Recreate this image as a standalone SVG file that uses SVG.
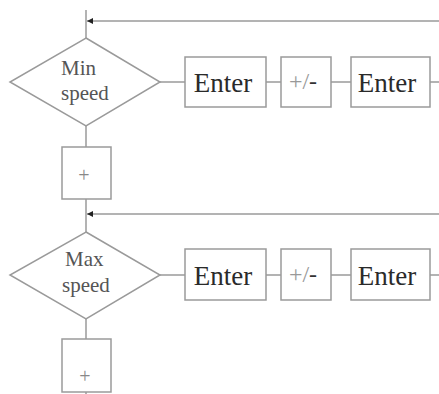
<svg xmlns="http://www.w3.org/2000/svg" width="439" height="394" viewBox="0 0 439 394">
<style>
.ln{stroke:#9a9a9a;stroke-width:1.5;fill:none}
.bx{stroke:#9a9a9a;stroke-width:1.5;fill:#fff}
.t{font-family:"Liberation Serif",serif}
.c{text-anchor:middle}
.big{font-size:27px;fill:#2a2a2a}
.sm{font-size:21px;fill:#555}
.pm{font-size:24px;fill:#999}
.dk{fill:#333}
.pl{font-size:20px;fill:#888}
</style>
<defs>
<marker id="ah" viewBox="0 0 10 10" refX="10" refY="5" markerWidth="6" markerHeight="6" markerUnits="userSpaceOnUse" orient="auto">
<path d="M0,0 L10,5 L0,10 z" fill="#222"/>
</marker>
</defs>
<rect width="439" height="394" fill="#fff"/>
<g id="connectors">
<line class="ln" x1="86" y1="10" x2="86" y2="38"/>
<line class="ln" x1="439" y1="21" x2="87" y2="21" marker-end="url(#ah)"/>
<line class="ln" x1="160" y1="82" x2="185" y2="82"/>
<line class="ln" x1="266" y1="82" x2="281" y2="82"/>
<line class="ln" x1="331" y1="82" x2="351" y2="82"/>
<line class="ln" x1="430" y1="82" x2="439" y2="82"/>
<line class="ln" x1="86" y1="126" x2="86" y2="147"/>
<line class="ln" x1="86" y1="199" x2="86" y2="232"/>
<line class="ln" x1="439" y1="214" x2="87" y2="214" marker-end="url(#ah)"/>
<line class="ln" x1="160" y1="275" x2="185" y2="275"/>
<line class="ln" x1="266" y1="275" x2="281" y2="275"/>
<line class="ln" x1="331" y1="275" x2="351" y2="275"/>
<line class="ln" x1="430" y1="275" x2="439" y2="275"/>
<line class="ln" x1="86" y1="319" x2="86" y2="339"/>
<line class="ln" x1="86" y1="392" x2="86" y2="394"/>
</g>
<g id="minspeed">
<polygon class="bx" points="86,38 160,82 86,126 10,82"/>
<text class="t sm" x="61" y="75">Min</text>
<text class="t sm" x="61" y="100">speed</text>
</g>
<g id="enter1a"><rect class="bx" x="185" y="57" width="81" height="50"/><text class="t c big" x="223" y="92">Enter</text></g>
<g id="pm1"><rect class="bx" x="281" y="57" width="50" height="50"/><text class="t c pm" x="303" y="89">+/<tspan class="dk">-</tspan></text></g>
<g id="enter1b"><rect class="bx" x="351" y="57" width="79" height="50"/><text class="t c big" x="387" y="92">Enter</text></g>
<g id="plus1"><rect class="bx" x="62" y="147" width="49" height="52"/><text class="t c pl" x="84" y="182">+</text></g>
<g id="maxspeed">
<polygon class="bx" points="86,232 160,275 86,319 10,275"/>
<text class="t sm" x="65" y="266">Max</text>
<text class="t sm" x="62" y="292">speed</text>
</g>
<g id="enter2a"><rect class="bx" x="185" y="249" width="81" height="51"/><text class="t c big" x="223" y="285">Enter</text></g>
<g id="pm2"><rect class="bx" x="281" y="249" width="50" height="51"/><text class="t c pm" x="303" y="282">+/<tspan class="dk">-</tspan></text></g>
<g id="enter2b"><rect class="bx" x="351" y="249" width="79" height="51"/><text class="t c big" x="387" y="285">Enter</text></g>
<g id="plus2"><rect class="bx" x="62" y="339" width="49" height="53"/><text class="t c pl" x="85" y="383">+</text></g>
</svg>
